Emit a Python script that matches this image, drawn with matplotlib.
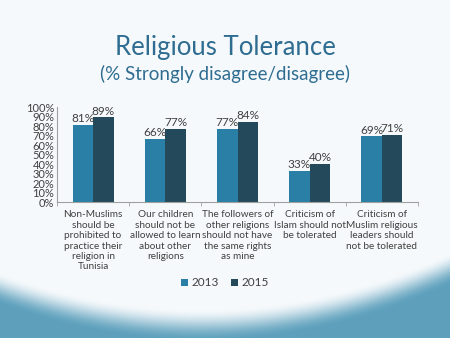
import numpy as np
import matplotlib
matplotlib.use("Agg")
import matplotlib.pyplot as plt

plt.rcParams['font.family'] = ['Lato', 'DejaVu Sans']

# data
categories = [
    "Non-Muslims\nshould be\nprohibited to\npractice their\nreligion in\nTunisia",
    "Our children\nshould not be\nallowed to learn\nabout other\nreligions",
    "The followers of\nother religions\nshould not have\nthe same rights\nas mine",
    "Criticism of\nIslam should not\nbe tolerated",
    "Criticism of\nMuslim religious\nleaders should\nnot be tolerated",
]
vals_2013 = [81, 66, 77, 33, 69]
vals_2015 = [89, 77, 84, 40, 71]
series_names = ["2013", "2015"]
yticks = list(range(0, 101, 10))

c2013 = "#2a7fa6"
c2015 = "#23495a"
txt = "#404040"

W, H = 450, 338
fig = plt.figure(figsize=(4.5, 3.38), dpi=100)

# slide background: white top, teal wave at the bottom
xx, yy = np.meshgrid(np.arange(W), np.arange(H))
curve = np.polyval(np.polyfit([0, 220, 450], [282, 318, 262], 2), xx)
t = np.clip((yy - curve + 10) / 32, 0, 1)
t = t * t * (3 - 2 * t)
top = np.array([0.965, 0.978, 0.988])
bot = np.array([0.37, 0.63, 0.74])
img = top * (1 - t[..., None]) + bot * t[..., None]
fig.figimage((img * 255).astype(np.uint8), xo=0, yo=0, origin='upper', zorder=-10)

fig.text(0.5, 1 - 47 / H, "Religious Tolerance", ha='center', va='center',
         fontsize=18.5, color="#2e6d91")
fig.text(0.5, 1 - 74 / H, "(% Strongly disagree/disagree)", ha='center', va='center',
         fontsize=13.5, color="#2e6d91")

ax = fig.add_axes([57 / W, 1 - 202 / H, 361 / W, 95 / H])
ax.patch.set_alpha(0)
x = np.arange(len(categories))
w = 0.285
b1 = ax.bar(x - w / 2, vals_2013, w, color=c2013, label=series_names[0])
b2 = ax.bar(x + w / 2, vals_2015, w, color=c2015, label=series_names[1])
for bars, vals in ((b1, vals_2013), (b2, vals_2015)):
    for r, v in zip(bars, vals):
        ax.text(r.get_x() + r.get_width() / 2, v + 1, f"{v}%", ha='center',
                va='bottom', fontsize=8.5, color=txt)

ax.set_xlim(-0.5, len(categories) - 0.5)
ax.set_ylim(0, 100)
ax.set_yticks(yticks)
ax.set_yticklabels([f"{v}%" for v in yticks], fontsize=8, color=txt)
ax.set_xticks(x)
ax.set_xticklabels(categories, fontsize=7.2, color=txt, linespacing=1.2)
ax.set_xticks(np.arange(-0.5, len(categories)), minor=True)
ax.tick_params(axis='x', which='major', length=0, pad=6)
ax.tick_params(axis='x', which='minor', length=3, color="#a0a0a0")
ax.tick_params(axis='y', length=0, pad=2)
for s in ('top', 'right'):
    ax.spines[s].set_visible(False)
for s in ('left', 'bottom'):
    ax.spines[s].set_color("#a0a0a0")
    ax.spines[s].set_linewidth(0.8)

fig.legend(handles=[b1, b2], loc='center', bbox_to_anchor=(0.5, 1 - 283 / H),
           ncol=2, frameon=False, fontsize=8.5, handlelength=0.6, handleheight=0.6,
           handletextpad=0.3, columnspacing=1.0, labelcolor=txt)

fig.savefig("out.png", dpi=100)
